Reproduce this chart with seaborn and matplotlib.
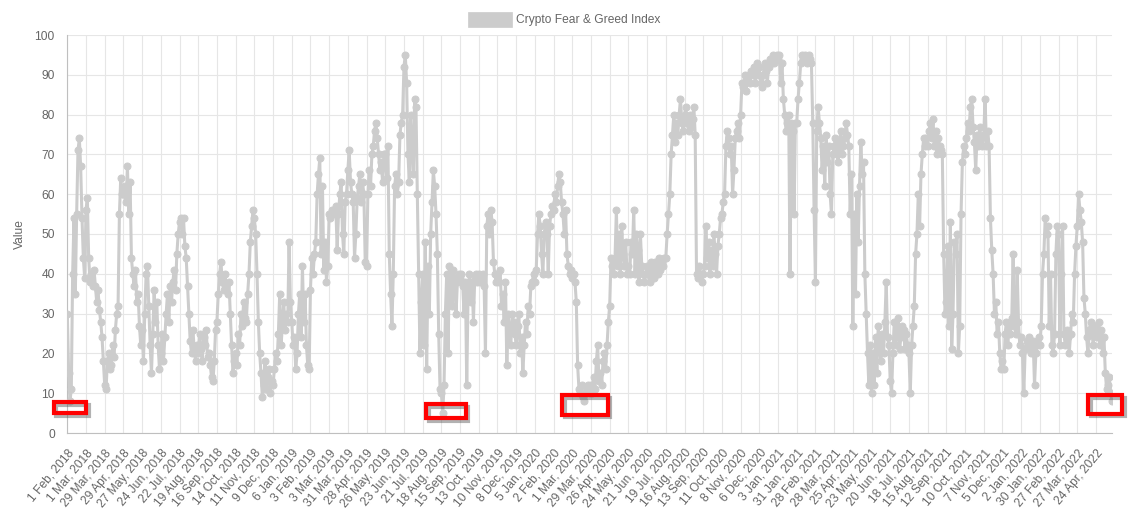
import numpy as np
import pandas as pd
import matplotlib
matplotlib.use("Agg")
import matplotlib.pyplot as plt
import matplotlib.patheffects as pe
from matplotlib.patches import Rectangle
import seaborn as sns

# ---------------- data ----------------
series_name = "Crypto Fear & Greed Index"
# one reading every 2 days, starting 1 Feb 2018 (positions on the daily category axis)
sample_step_days = 2
fear_greed_values = [
    30, 15, 8, 11, 40, 54, 35, 55, 71, 74, 67, 54, 44, 39,
    56, 59, 44, 38, 40, 37, 41, 37, 33, 36, 31, 28, 24, 18,
    12, 11, 18, 20, 16, 17, 22, 19, 26, 30, 32, 55, 64, 60,
    60, 62, 58, 67, 55, 63, 44, 40, 37, 41, 33, 35, 27, 22,
    26, 18, 30, 40, 42, 32, 22, 15, 25, 36, 28, 33, 22, 16,
    20, 25, 18, 24, 30, 35, 28, 37, 33, 38, 41, 36, 45, 50,
    53, 54, 50, 54, 47, 44, 37, 30, 23, 20, 26, 21, 18, 22,
    20, 25, 21, 18, 24, 22, 26, 19, 20, 17, 14, 13, 18, 26,
    28, 35, 40, 43, 38, 36, 40, 37, 35, 38, 30, 22, 15, 18,
    20, 17, 25, 22, 30, 27, 33, 29, 28, 35, 40, 48, 52, 56,
    54, 50, 40, 28, 20, 15, 9, 12, 18, 11, 14, 16, 10, 13,
    12, 16, 20, 18, 25, 35, 22, 27, 33, 26, 30, 28, 48, 33,
    28, 22, 24, 16, 20, 30, 35, 24, 42, 28, 35, 22, 17, 16,
    36, 44, 40, 45, 48, 60, 65, 69, 45, 62, 41, 48, 38, 42,
    55, 54, 56, 55, 56, 57, 46, 55, 60, 63, 50, 45, 58, 60,
    66, 71, 63, 60, 58, 44, 50, 59, 62, 65, 58, 63, 60, 43,
    42, 60, 66, 62, 70, 72, 76, 78, 74, 70, 66, 68, 63, 70,
    70, 64, 72, 45, 35, 27, 40, 62, 65, 60, 63, 75, 78, 80,
    92, 95, 88, 70, 63, 80, 72, 65, 84, 82, 60, 40, 20, 33,
    40, 22, 48, 16, 42, 30, 50, 58, 66, 62, 55, 45, 25, 11,
    10, 5, 12, 30, 40, 20, 42, 38, 32, 41, 39, 30, 38, 40,
    39, 40, 37, 30, 38, 12, 35, 40, 33, 38, 28, 39, 40, 38,
    40, 38, 39, 40, 37, 20, 52, 55, 50, 56, 53, 43, 40, 38,
    40, 38, 41, 32, 35, 28, 38, 17, 30, 25, 22, 30, 28, 25,
    22, 27, 30, 20, 24, 15, 22, 28, 25, 32, 30, 37, 38, 40,
    38, 41, 50, 55, 52, 45, 40, 50, 53, 50, 40, 52, 55, 57,
    56, 60, 58, 62, 65, 63, 58, 55, 50, 56, 45, 42, 40, 41,
    39, 40, 38, 33, 17, 11, 10, 12, 9, 8, 10, 11, 12, 10,
    12, 10, 14, 11, 18, 22, 13, 15, 12, 18, 20, 16, 22, 28,
    32, 44, 42, 40, 44, 56, 42, 50, 40, 52, 45, 42, 48, 40,
    42, 40, 48, 45, 56, 40, 50, 46, 38, 50, 42, 40, 38, 40,
    42, 40, 38, 43, 41, 39, 43, 42, 40, 44, 41, 43, 42, 44,
    44, 50, 55, 60, 70, 75, 80, 73, 78, 75, 80, 84, 78, 76,
    80, 82, 78, 76, 80, 77, 79, 82, 75, 40, 39, 42, 40, 38,
    40, 42, 52, 44, 48, 40, 46, 42, 50, 45, 40, 47, 50, 54,
    55, 58, 60, 72, 76, 74, 70, 72, 60, 66, 74, 76, 78, 74,
    80, 88, 87, 90, 86, 89, 90, 88, 91, 90, 92, 88, 93, 90,
    92, 88, 87, 90, 93, 91, 88, 92, 94, 93, 95, 93, 94, 95,
    94, 95, 88, 93, 84, 80, 76, 78, 80, 40, 78, 76, 55, 78,
    78, 84, 88, 93, 95, 94, 95, 94, 93, 95, 94, 93, 78, 56,
    38, 76, 82, 78, 74, 66, 72, 62, 75, 68, 72, 60, 55, 70,
    72, 74, 70, 68, 73, 76, 70, 72, 74, 78, 75, 72, 55, 65,
    27, 55, 35, 60, 48, 62, 73, 65, 68, 40, 30, 20, 12, 22,
    10, 20, 12, 24, 15, 27, 22, 18, 25, 20, 28, 38, 24, 22,
    13, 10, 20, 28, 22, 25, 29, 21, 24, 27, 26, 21, 25, 22,
    20, 10, 22, 27, 32, 45, 50, 60, 52, 65, 70, 74, 72, 74,
    72, 76, 78, 74, 79, 72, 76, 70, 74, 72, 71, 70, 45, 30,
    33, 47, 27, 53, 21, 30, 48, 45, 50, 20, 27, 55, 68, 72,
    70, 74, 78, 76, 82, 84, 77, 73, 66, 75, 72, 77, 74, 72,
    75, 84, 72, 76, 72, 54, 46, 40, 30, 33, 25, 28, 20, 16,
    18, 16, 25, 28, 22, 27, 25, 29, 45, 27, 25, 41, 28, 22,
    24, 20, 10, 21, 23, 22, 24, 20, 21, 23, 12, 20, 22, 24,
    22, 27, 40, 45, 54, 50, 52, 27, 40, 22, 20, 25, 45, 52,
    50, 22, 40, 52, 25, 22, 26, 24, 20, 25, 30, 28, 40, 47,
    52, 60, 56, 53, 48, 34, 30, 24, 20, 26, 28, 25, 22, 27,
    27, 24, 28, 22, 26, 20, 24, 15, 11, 12, 14, 10, 8,
]
total_days = 1565
tick_every = 28
tick_labels = [
    "1 Feb, 2018", "1 Mar, 2018", "29 Mar, 2018", "29 Apr, 2018", "27 May, 2018",
    "24 Jun, 2018", "22 Jul, 2018", "19 Aug, 2018", "16 Sep, 2018", "14 Oct, 2018",
    "11 Nov, 2018", "9 Dec, 2018", "6 Jan, 2019", "3 Feb, 2019", "3 Mar, 2019",
    "31 Mar, 2019", "28 Apr, 2019", "26 May, 2019", "23 Jun, 2019", "21 Jul, 2019",
    "18 Aug, 2019", "15 Sep, 2019", "13 Oct, 2019", "10 Nov, 2019", "8 Dec, 2019",
    "5 Jan, 2020", "2 Feb, 2020", "1 Mar, 2020", "29 Mar, 2020", "26 Apr, 2020",
    "24 May, 2020", "21 Jun, 2020", "19 Jul, 2020", "16 Aug, 2020", "13 Sep, 2020",
    "11 Oct, 2020", "8 Nov, 2020", "6 Dec, 2020", "3 Jan, 2021", "31 Jan, 2021",
    "28 Feb, 2021", "28 Mar, 2021", "25 Apr, 2021", "23 May, 2021", "20 Jun, 2021",
    "18 Jul, 2021", "15 Aug, 2021", "12 Sep, 2021", "10 Oct, 2021", "7 Nov, 2021",
    "5 Dec, 2021", "2 Jan, 2022", "30 Jan, 2022", "27 Feb, 2022", "27 Mar, 2022",
    "24 Apr, 2022",
]
y_ticks = list(range(0, 101, 10))

# highlighted lows (x0, x1, y0, y1) in data units
highlight_boxes = [
    (-20.4, 28.4, 5.0, 7.8),
    (537.4, 596.4, 3.8, 7.2),
    (741.0, 809.0, 4.6, 9.5),
    (1528.0, 1579.0, 4.85, 9.5),
]

df = pd.DataFrame({
    "day": np.arange(len(fear_greed_values)) * sample_step_days,
    "value": fear_greed_values,
})

# ---------------- style ----------------
sns.set_theme(style="white")
plt.rcParams["font.family"] = ["Liberation Sans", "DejaVu Sans"]
TXT = "#666666"
GRID = "#e6e6e6"
AXIS = "#bfbfbf"
LINE = "#cccccc"
FS = 8.64  # 12 px

W, H = 1134, 514
fig = plt.figure(figsize=(W / 100, H / 100), dpi=100)
ax = fig.add_axes([67.3 / W, 1 - 433 / H, (1112 - 67.3) / W, (433 - 35) / H])

sns.lineplot(data=df, x="day", y="value", ax=ax, color=LINE, linewidth=2.2,
             marker="o", markersize=5.0, markeredgecolor=LINE,
             markerfacecolor=LINE, zorder=3, legend=False)

ax.set_xlim(0, total_days - 1)
ax.set_ylim(0, 100)
ax.set_xticks(np.arange(len(tick_labels)) * tick_every)
ax.set_xticklabels(tick_labels, rotation=50, ha="right", rotation_mode="anchor",
                   color=TXT, fontsize=FS)
ax.set_yticks(y_ticks)
ax.set_yticklabels([str(v) for v in y_ticks], color=TXT, fontsize=FS)
ax.tick_params(axis="both", length=7, width=0.8, color=GRID, pad=2)
ax.tick_params(axis="x", pad=3)
ax.grid(True, color=GRID, linewidth=0.8, alpha=1.0)
ax.set_axisbelow(True)
for s in ["top", "right"]:
    ax.spines[s].set_visible(False)
for s in ["left", "bottom"]:
    ax.spines[s].set_color(AXIS)
    ax.spines[s].set_linewidth(0.8)
ax.set_xlabel("")
ax.set_ylabel("Value", color=TXT, fontsize=FS, labelpad=6)

for (x0, x1, y0, y1) in highlight_boxes:
    r = Rectangle((x0, y0), x1 - x0, y1 - y0, fill=False, edgecolor="#ff0000",
                  linewidth=3.0, zorder=6, clip_on=False)
    r.set_path_effects([pe.SimpleLineShadow(offset=(2, -2), shadow_color="#555555", alpha=0.45),
                        pe.Normal()])
    ax.add_patch(r)

# legend (Chart.js style box + label at top centre)
fig.add_artist(Rectangle((468 / W, 1 - 27 / H), 44 / W, 15 / H,
                         transform=fig.transFigure, facecolor=LINE, edgecolor=LINE, lw=0.5))
fig.text(516 / W, 1 - 19.5 / H, series_name, color=TXT, fontsize=FS, va="center", ha="left")

fig.savefig("out.png", dpi=100)
